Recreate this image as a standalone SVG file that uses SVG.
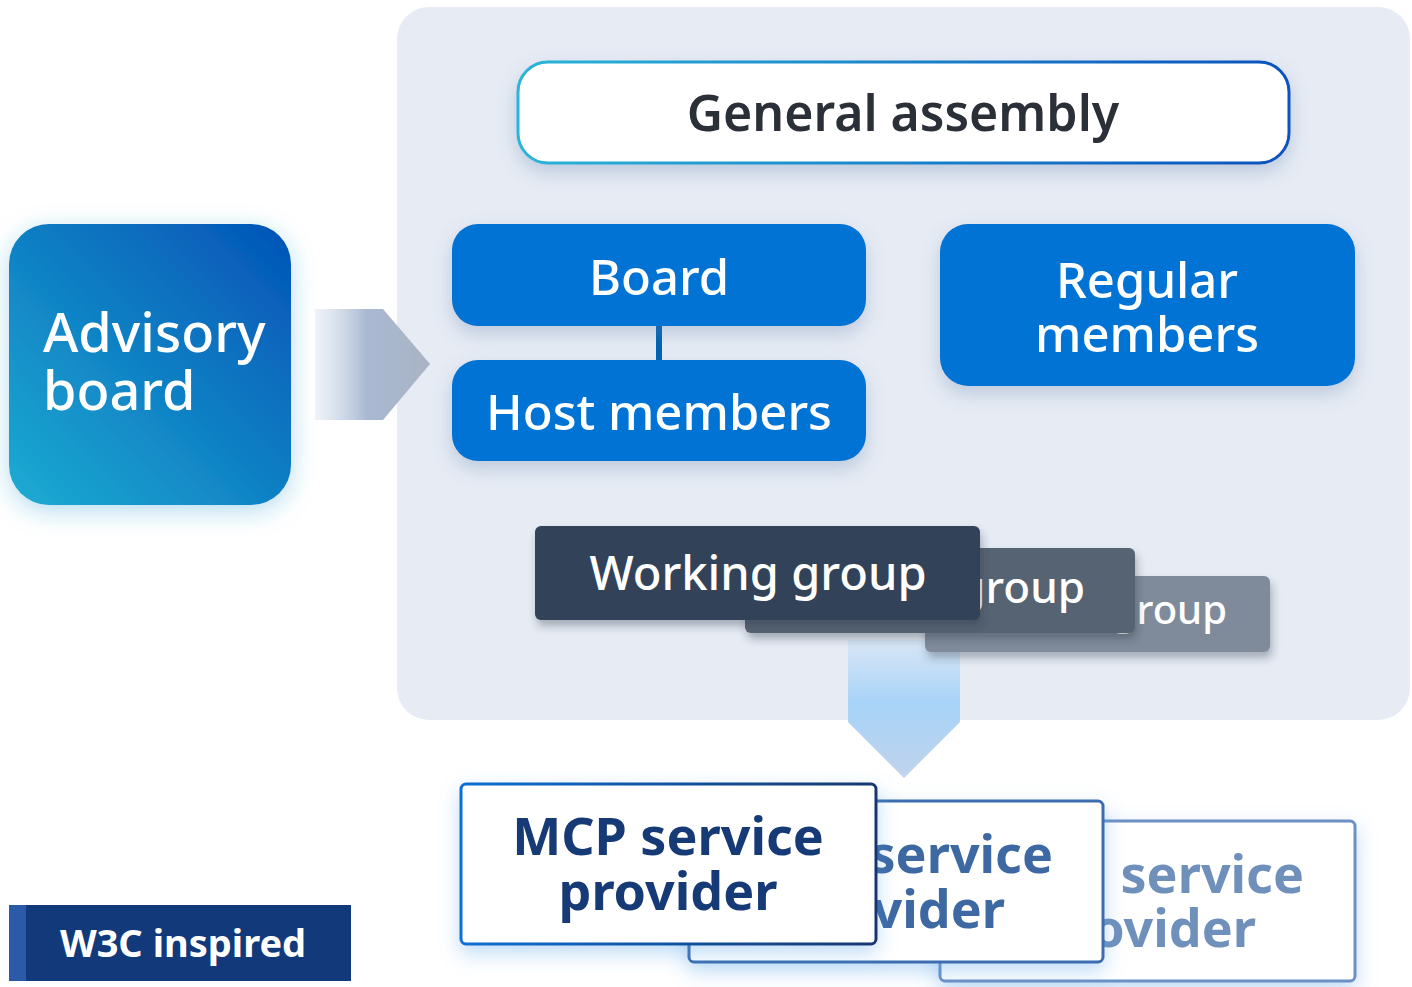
<svg xmlns="http://www.w3.org/2000/svg" width="1412" height="987" viewBox="0 0 1412 987">
<defs>
<linearGradient id="gaStroke" x1="0" y1="0" x2="1" y2="0"><stop offset="0" stop-color="#2ab4d8"/><stop offset="1" stop-color="#0a52bd"/></linearGradient>
<linearGradient id="advFill" x1="1" y1="0" x2="0" y2="1"><stop offset="0" stop-color="#0353b6"/><stop offset="1" stop-color="#1cacd2"/></linearGradient>
<linearGradient id="arrowR" x1="0" y1="0" x2="1" y2="0"><stop offset="0" stop-color="#c4d2e6" stop-opacity="0.25"/><stop offset="0.45" stop-color="#a9b9d2"/><stop offset="1" stop-color="#a9b3c3"/></linearGradient>
<linearGradient id="arrowD" x1="0" y1="0" x2="0" y2="1"><stop offset="0" stop-color="#b4d9f8" stop-opacity="0.3"/><stop offset="0.45" stop-color="#a7d3f8"/><stop offset="1" stop-color="#c0d3ec"/></linearGradient>
<linearGradient id="mcpStroke" x1="0" y1="0" x2="1" y2="0"><stop offset="0" stop-color="#0b6fd2"/><stop offset="1" stop-color="#15366f"/></linearGradient>
<filter id="sh" x="-20%" y="-20%" width="140%" height="150%"><feDropShadow dx="0" dy="8" stdDeviation="9" flood-color="#5a7fa8" flood-opacity="0.3"/></filter>
<filter id="shGlow" x="-20%" y="-20%" width="140%" height="150%"><feDropShadow dx="0" dy="6" stdDeviation="12" flood-color="#2a9ad0" flood-opacity="0.35"/></filter>
<filter id="shDark" x="-10%" y="-20%" width="120%" height="160%"><feDropShadow dx="2" dy="6" stdDeviation="4" flood-color="#2a3340" flood-opacity="0.35"/></filter>
<filter id="shBlue" x="-10%" y="-20%" width="120%" height="150%"><feDropShadow dx="0" dy="8" stdDeviation="10" flood-color="#4a9ae8" flood-opacity="0.35"/></filter>
</defs>
<style>
text{font-family:"Noto Sans","Open Sans","DejaVu Sans",sans-serif}
.w{fill:#ffffff}
.blue{fill:#0073d4}
.lbl{font-size:49px;font-weight:500;text-anchor:middle}
.wg{font-weight:500;text-anchor:end}
.mcp{font-size:52px;font-weight:700;text-anchor:middle}
.mcpe{font-size:52px;font-weight:700;text-anchor:end}
</style>
<rect x="397" y="7" width="1013" height="713" rx="32" fill="#e6ebf4"/>
<g id="connectors">
<path d="M315 309 H383 L430 364 L383 420 H315 Z" fill="url(#arrowR)"/>
<path d="M848 640 H960 V722 L904 778 L848 722 Z" fill="url(#arrowD)"/>
<rect x="656" y="324" width="6" height="38" fill="#0062b4"/>
</g>
<g id="general-assembly">
<rect x="518" y="62" width="771" height="101" rx="30" fill="#ffffff" stroke="url(#gaStroke)" stroke-width="3" filter="url(#sh)"/>
<text x="903" y="131" font-size="50" font-weight="600" fill="#2a2f38" text-anchor="middle">General assembly</text>
</g>
<g id="advisory-board">
<rect x="9" y="224" width="282" height="281" rx="40" fill="url(#advFill)" filter="url(#shGlow)"/>
<text font-size="54" font-weight="500" class="w"><tspan x="43" y="352">Advisory</tspan><tspan x="43" y="410">board</tspan></text>
</g>
<g id="board">
<rect x="452" y="224" width="414" height="102" rx="26" class="blue" filter="url(#sh)"/>
<text x="659" y="295" class="lbl w">Board</text>
</g>
<g id="host-members">
<rect x="452" y="360" width="414" height="101" rx="26" class="blue" filter="url(#sh)"/>
<text x="659" y="430" class="lbl w">Host members</text>
</g>
<g id="regular-members">
<rect x="940" y="224" width="415" height="162" rx="28" class="blue" filter="url(#sh)"/>
<text class="lbl w"><tspan x="1147" y="298">Regular</tspan><tspan x="1147" y="352">members</tspan></text>
</g>
<g id="working-group-3">
<rect x="925" y="576" width="345" height="76" rx="6" fill="#7f8b9b" filter="url(#shDark)"/>
<text x="1227" y="624" font-size="40" class="wg w">group</text>
</g>
<g id="working-group-2">
<rect x="745" y="548" width="390" height="85" rx="6" fill="#566473" filter="url(#shDark)"/>
<text x="1085" y="603" font-size="44" class="wg w">group</text>
</g>
<g id="working-group-1">
<rect x="535" y="526" width="445" height="94" rx="6" fill="#324359" filter="url(#shDark)"/>
<text x="758" y="590" font-size="47" font-weight="500" text-anchor="middle" class="w">Working group</text>
</g>
<g id="mcp-provider-3">
<rect x="940" y="821" width="415" height="160" rx="5" fill="#ffffff" stroke="#6c90c4" stroke-width="3" filter="url(#shBlue)"/>
<text class="mcpe" fill="#7090bc"><tspan x="1304" y="893">service</tspan><tspan x="1256" y="947">ovider</tspan></text>
</g>
<g id="mcp-provider-2">
<rect x="689" y="801" width="414" height="161" rx="5" fill="#ffffff" stroke="#3d6db0" stroke-width="3" filter="url(#shBlue)"/>
<text class="mcpe" fill="#3d68a2"><tspan x="1053" y="873">service</tspan><tspan x="1005" y="928">vider</tspan></text>
</g>
<g id="mcp-provider-1">
<rect x="461" y="784" width="415" height="160" rx="5" fill="#ffffff" stroke="url(#mcpStroke)" stroke-width="3" filter="url(#shBlue)"/>
<text class="mcp" fill="#163a75"><tspan x="668" y="855">MCP service</tspan><tspan x="668" y="910">provider</tspan></text>
</g>
<g id="w3c-label">
<rect x="9" y="905" width="342" height="76" fill="#12397a"/>
<rect x="9" y="905" width="17" height="76" fill="#2a5aa8"/>
<text x="183" y="957" font-size="38" font-weight="700" text-anchor="middle" class="w">W3C inspired</text>
</g>
</svg>
